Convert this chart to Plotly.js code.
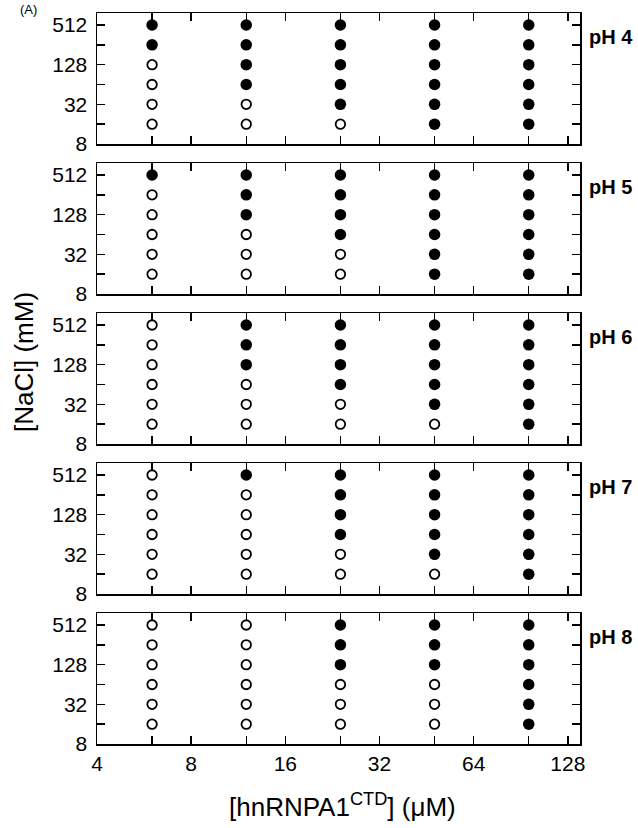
<!DOCTYPE html>
<html>
<head>
<meta charset="utf-8">
<script src="https://cdn.plot.ly/plotly-3.0.1.min.js"></script>
<style>html,body{margin:0;padding:0;background:#fff;}</style>
</head>
<body>
<div id="chart" style="width:638px;height:828px;"></div>
<script>
// hnRNPA1 CTD concentration (µM) and NaCl concentration (mM)
const protein = [6, 12, 24, 48, 96];
const nacl = [16, 32, 64, 128, 256, 512];
const phLabels = ['pH 4', 'pH 5', 'pH 6', 'pH 7', 'pH 8'];
const xTickVals = [4, 8, 16, 32, 64, 128];
const xMinorVals = [6, 12, 24, 48, 96];
const yTickVals = [8, 32, 128, 512];
const yMinorVals = [16, 64, 256];

// 1 = phase separated (filled), 0 = clear (open); rows per protein conc., entries per NaCl (16..512)
const pH4 = [[0,0,0,0,1,1],[0,0,1,1,1,1],[0,1,1,1,1,1],[1,1,1,1,1,1],[1,1,1,1,1,1]];
const pH5 = [[0,0,0,0,0,1],[0,0,0,1,1,1],[0,0,1,1,1,1],[1,1,1,1,1,1],[1,1,1,1,1,1]];
const pH6 = [[0,0,0,0,0,0],[0,0,0,1,1,1],[0,0,1,1,1,1],[0,1,1,1,1,1],[1,1,1,1,1,1]];
const pH7 = [[0,0,0,0,0,0],[0,0,0,0,0,1],[0,0,1,1,1,1],[0,1,1,1,1,1],[1,1,1,1,1,1]];
const pH8 = [[0,0,0,0,0,0],[0,0,0,0,0,0],[0,0,0,1,1,1],[0,0,0,1,1,1],[1,1,1,1,1,1]];
const panels = [pH4, pH5, pH6, pH7, pH8];

const FONT = 'Liberation Sans, Arial, sans-serif';
const plotTop = 13, plotBottom = 744, panelH = 131, step = 150;
const plotH = plotBottom - plotTop;
const plotL = 97, plotR = 580, plotW = plotR - plotL;

const traces = [];
const layout = {
  width: 638, height: 828,
  margin: {l: plotL, r: 638 - plotR, t: plotTop, b: 828 - plotBottom},
  paper_bgcolor: '#fff', plot_bgcolor: '#fff',
  showlegend: false,
  font: {family: FONT, color: '#000'},
  annotations: []
};

const tickStyle = {ticks: 'inside', ticklen: 8, tickwidth: 1.5, tickcolor: '#000'};

panels.forEach((grid, i) => {
  const n = i + 1;
  const xa = n === 1 ? 'x' : 'x' + n;
  const ya = n === 1 ? 'y' : 'y' + n;
  const fx = [], fy = [], ox = [], oy = [];
  grid.forEach((col, ci) => {
    col.forEach((v, ri) => {
      if (v) { fx.push(protein[ci]); fy.push(nacl[ri]); }
      else { ox.push(protein[ci]); oy.push(nacl[ri]); }
    });
  });
  traces.push({x: fx, y: fy, xaxis: xa, yaxis: ya, type: 'scatter', mode: 'markers',
    marker: {symbol: 'circle', size: 11.5, color: '#000', line: {width: 0}}, cliponaxis: false});
  traces.push({x: ox, y: oy, xaxis: xa, yaxis: ya, type: 'scatter', mode: 'markers',
    marker: {symbol: 'circle-open', size: 9.5, color: '#000', line: {width: 1.8, color: '#000'}}, cliponaxis: false});

  const topFrac = 1 - (i * step) / plotH;
  const botFrac = 1 - (i * step + panelH) / plotH;
  const xKey = n === 1 ? 'xaxis' : 'xaxis' + n;
  const yKey = n === 1 ? 'yaxis' : 'yaxis' + n;
  layout[xKey] = Object.assign({
    type: 'log', range: [Math.log10(4), Math.log10(140)],
    anchor: ya, domain: [0, 1],
    tickmode: 'array', tickvals: xTickVals, ticktext: xTickVals.map(String),
    minor: Object.assign({tickmode: 'array', tickvals: xMinorVals, showgrid: false}, tickStyle),
    showline: true, linecolor: '#000', linewidth: 1.5, mirror: 'ticks',
    showgrid: false, zeroline: false,
    showticklabels: n === 5,
    tickfont: {family: FONT, size: 21, color: '#000'}
  }, tickStyle);
  if (n !== 1) layout[xKey].matches = 'x';
  layout[yKey] = Object.assign({
    type: 'log', range: [Math.log10(8), Math.log10(8) + 6.605 * Math.log10(2)],
    anchor: xa, domain: [botFrac, topFrac],
    tickmode: 'array', tickvals: yTickVals, ticktext: yTickVals.map(String),
    minor: Object.assign({tickmode: 'array', tickvals: yMinorVals, showgrid: false}, tickStyle),
    showline: true, linecolor: '#000', linewidth: 1.5, mirror: 'ticks',
    showgrid: false, zeroline: false,
    ticklabelstandoff: 4,
    tickfont: {family: FONT, size: 21, color: '#000'}
  }, tickStyle);
  layout.annotations.push({
    text: '<b>' + phLabels[i] + '</b>', xref: 'paper', yref: 'paper',
    x: (587 - plotL) / plotW, y: topFrac - 24 / plotH, xanchor: 'left', yanchor: 'middle',
    showarrow: false, font: {family: FONT, size: 20, color: '#000'}
  });
});

layout.annotations.push({
  text: '[NaCl] (mM)', xref: 'paper', yref: 'paper', textangle: -90,
  x: (24 - plotL) / plotW, y: (plotBottom - 362) / plotH, xanchor: 'center', yanchor: 'middle',
  showarrow: false, font: {family: FONT, size: 26, color: '#000'}
});
layout.annotations.push({
  text: '[hnRNPA1<sup>CTD</sup>] (\u03bcM)', xref: 'paper', yref: 'paper',
  x: (342 - plotL) / plotW, y: -(805 - plotBottom) / plotH, xanchor: 'center', yanchor: 'middle',
  showarrow: false, font: {family: FONT, size: 26, color: '#000'}
});
layout.annotations.push({
  text: '(A)', xref: 'paper', yref: 'paper',
  x: (28 - plotL) / plotW, y: 1 + plotTop / plotH, xanchor: 'center', yanchor: 'top',
  showarrow: false, font: {family: FONT, size: 13, color: '#000'}
});

Plotly.newPlot('chart', traces, layout, {staticPlot: true, displayModeBar: false});
</script>
</body>
</html>
